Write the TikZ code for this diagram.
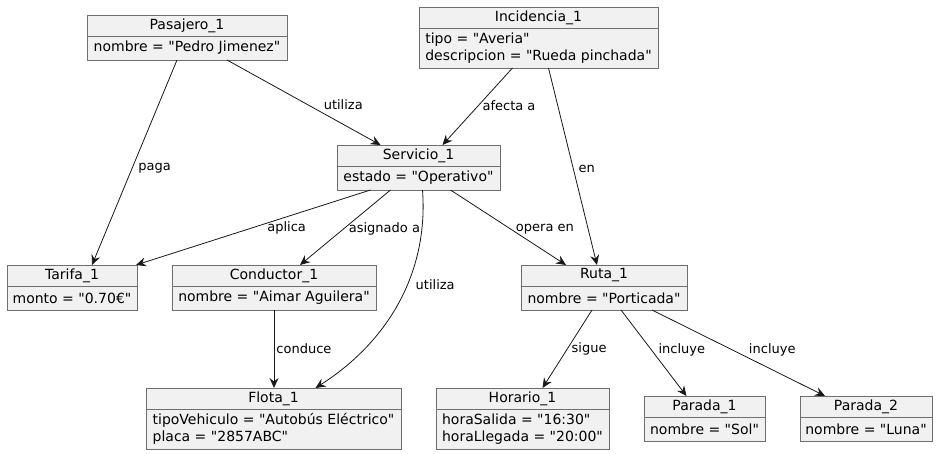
\documentclass[tikz,border=0pt]{standalone}
\usepackage{fontspec}
\setmainfont{DejaVu Sans}[Ligatures=TeXOff]
\usetikzlibrary{positioning,arrows.meta}
\definecolor{boxfill}{HTML}{F1F1F1}
\definecolor{boxline}{HTML}{6E6E6E}
\definecolor{linkcol}{HTML}{181818}
\begin{document}
\begin{tikzpicture}[x=1pt,y=-1pt]
\tikzset{
	head node/.style={rectangle,draw=boxline,fill=boxfill,line width=0.8pt,anchor=north west,
		inner sep=0pt,outer sep=0pt,minimum height=21pt,font=\fontsize{14}{16.3}\selectfont},
	attr node/.style={rectangle,draw=boxline,fill=boxfill,line width=0.8pt,below=0pt of #1,
		inner sep=0pt,outer sep=0pt,align=left,minimum height=24pt,font=\fontsize{14}{16.3}\selectfont},
	two lines/.style={minimum height=40pt},
	link/.style={draw=linkcol,line width=0.8pt,-{Stealth[length=10pt,width=9pt,inset=3.5pt]}},
	link label/.style={font=\fontsize{13}{15}\selectfont,inner sep=0pt,anchor=west}
}
\useasboundingbox (0,0) rectangle (941,454);
% objects
\node[head node,minimum width=200pt] (pas) at (87,15) {Pasajero\_1};
\node[attr node=pas,minimum width=200pt] (pasA) {nombre = "Pedro Jimenez"};
\node[head node,minimum width=239pt] (inc) at (419,7) {Incidencia\_1};
\node[attr node=inc,two lines,minimum width=239pt] (incA) {tipo = "Averia"\\descripcion = "Rueda pinchada"};
\node[head node,minimum width=163pt] (serv) at (337,145) {Servicio\_1};
\node[attr node=serv,minimum width=163pt] (servA) {estado = "Operativo"};
\node[head node,minimum width=130pt] (tar) at (7,265) {Tarifa\_1};
\node[attr node=tar,minimum width=130pt] (tarA) {monto = "0.70€"};
\node[head node,minimum width=204pt] (cond) at (172,265) {Conductor\_1};
\node[attr node=cond,minimum width=204pt] (condA) {nombre = "Aimar Aguilera"};
\node[head node,minimum width=166pt] (ruta) at (521,265) {Ruta\_1};
\node[attr node=ruta,minimum width=166pt] (rutaA) {nombre = "Porticada"};
\node[head node,minimum width=255pt] (flota) at (146,388) {Flota\_1};
\node[attr node=flota,two lines,minimum width=255pt] (flotaA) {tipoVehiculo = "Autobús Eléctrico"\\placa = "2857ABC"};
\node[head node,minimum width=173pt] (hor) at (436,388) {Horario\_1};
\node[attr node=hor,two lines,minimum width=173pt] (horA) {horaSalida = "16:30"\\horaLlegada = "20:00"};
\node[head node,minimum width=121pt] (par1) at (644,396) {Parada\_1};
\node[attr node=par1,minimum width=121pt] (par1A) {nombre = "Sol"};
\node[head node,minimum width=132pt] (par2) at (800,396) {Parada\_2};
\node[attr node=par2,minimum width=132pt] (par2A) {nombre = "Luna"};
% links
\draw[link] ([xshift=40pt]pasA.south) -- node[link label,pos=0.53,xshift=15pt]{utiliza} ([xshift=-38pt]serv.north);
\draw[link] ([xshift=-10pt]pasA.south) -- node[link label,pos=0.53,xshift=6pt]{paga} ([xshift=20pt]tar.north);
\draw[link] ([xshift=-26pt]incA.south) -- node[link label,pos=0.49,xshift=4pt]{afecta a} ([xshift=24pt]serv.north);
\draw[link] ([xshift=10pt]incA.south) -- node[link label,pos=0.51,xshift=5pt]{en} ([xshift=-7pt]ruta.north);
\draw[link] ([xshift=-48pt]servA.south) -- node[link label,pos=0.51,xshift=16pt]{aplica} ([xshift=-1pt]tar.north east);
\draw[link] ([xshift=-28pt]servA.south) -- node[link label,pos=0.52,xshift=5pt]{asignado a} ([xshift=26pt]cond.north);
\draw[link] ([xshift=4pt]servA.south) .. controls +(6,80) and +(75,-48) .. node[link label,pos=0.42,xshift=8pt]{utiliza} ([xshift=42pt]flota.north);
\draw[link] ([xshift=32pt]servA.south) -- node[link label,pos=0.52,xshift=5pt]{opera en} ([xshift=-38pt]ruta.north);
\draw[link] (condA.south) -- node[link label,pos=0.5,xshift=2pt]{conduce} ([xshift=0.5pt]flota.north);
\draw[link] ([xshift=-12pt]rutaA.south) -- node[link label,pos=0.5,xshift=4pt]{sigue} ([xshift=20pt]hor.north);
\draw[link] ([xshift=17pt]rutaA.south) -- node[link label,pos=0.46,xshift=7pt]{incluye} ([xshift=-18pt]par1.north);
\draw[link] ([xshift=48pt]rutaA.south) -- node[link label,pos=0.46,xshift=17pt]{incluye} ([xshift=-41pt]par2.north);
\end{tikzpicture}
\end{document}
